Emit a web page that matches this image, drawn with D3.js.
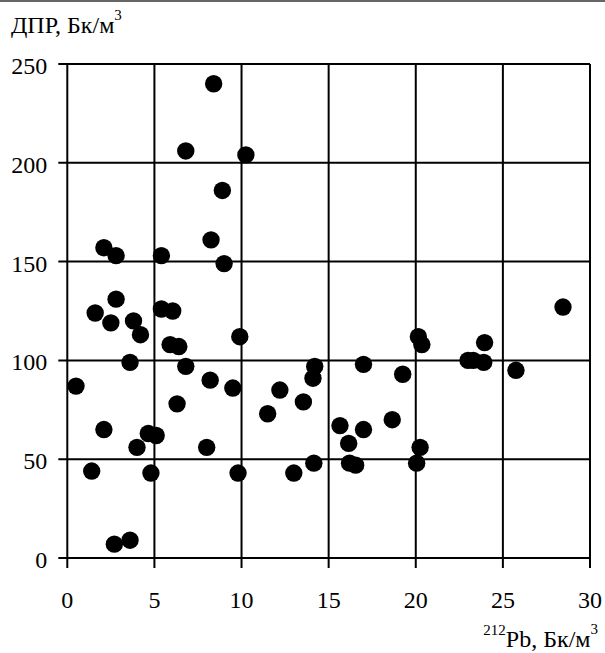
<!DOCTYPE html>
<html><head><meta charset="utf-8">
<script src="https://cdn.jsdelivr.net/npm/d3@7"></script>
<style>body{margin:0;background:#fff}svg{display:block}svg text{font-family:"Liberation Serif",Tinos,"Times New Roman","DejaVu Serif","Noto Serif",serif}</style>
</head><body>
<script>
const pb212 = [0.5,1.4,1.6,2.1,2.1,2.5,2.8,2.8,2.7,3.6,3.6,3.8,4.2,4.0,4.65,4.8,5.1,5.4,5.4,6.05,5.9,6.4,6.3,6.8,6.8,8.0,8.2,8.25,8.4,8.9,9.0,9.5,9.8,9.9,10.25,11.5,12.2,13.0,13.55,14.1,14.2,14.15,15.65,16.15,16.2,16.55,17.0,17.0,18.65,19.25,20.05,20.15,20.35,20.25,23.0,23.3,23.95,23.9,25.75,28.45];
const dpr = [87,44,124,157,65,119,153,131,7,9,99,120,113,56,63,43,62,153,126,125,108,107,78,97,206,56,90,161,240,186,149,86,43,112,204,73,85,43,79,91,97,48,67,58,48,47,98,65,70,93,48,112,108,56,100,100,109,99,95,127];
const xTicks = [0,5,10,15,20,25,30];
const yTicks = [0,50,100,150,200,250];
const yTitle = "ДПР, Бк/м";
const xTitleIso = "212";
const xTitle = "Pb, Бк/м";

const W=605,H=653, L=67.3, R=590, T=64, B=558;
const svg=d3.select("body").append("svg").attr("width",W).attr("height",H);
const x=d3.scaleLinear().domain([0,30]).range([L,R]);
const y=d3.scaleLinear().domain([0,250]).range([B,T]);

svg.append("line").attr("x1",0).attr("x2",W).attr("y1",1).attr("y2",1).attr("stroke","#333").attr("stroke-width",1.5);

const g=svg.append("g");
g.selectAll(".gx").data(xTicks).join("line").attr("x1",d=>x(d)).attr("x2",d=>x(d)).attr("y1",T).attr("y2",B+10).attr("stroke","#000").attr("stroke-width",2);
g.selectAll(".gy").data(yTicks).join("line").attr("y1",d=>y(d)).attr("y2",d=>y(d)).attr("x1",L-9).attr("x2",R).attr("stroke","#000").attr("stroke-width",2);

g.selectAll(".tx").data(xTicks).join("text").attr("x",d=>x(d)).attr("y",B+50).attr("text-anchor","middle").attr("font-size",24).text(d=>d);
g.selectAll(".ty").data(yTicks).join("text").attr("x",L-20).attr("y",d=>y(d)+10).attr("text-anchor","end").attr("font-size",24).text(d=>d);

svg.selectAll("circle").data(pb212.map((v,i)=>[v,dpr[i]])).join("circle")
  .attr("cx",d=>x(d[0])).attr("cy",d=>y(d[1])).attr("r",8.7).attr("fill","#000");

const t1=svg.append("text").attr("x",11).attr("y",33).attr("font-size",24);
t1.append("tspan").text(yTitle);
t1.append("tspan").attr("font-size",15).attr("dy",-13).text("3");

const t2=svg.append("text").attr("x",598).attr("y",647).attr("text-anchor","end").attr("font-size",24);
t2.append("tspan").attr("font-size",15).attr("dy",-12).text(xTitleIso);
t2.append("tspan").attr("dy",12).text(xTitle);
t2.append("tspan").attr("font-size",15).attr("dy",-13).text("3");
</script>
</body></html>
